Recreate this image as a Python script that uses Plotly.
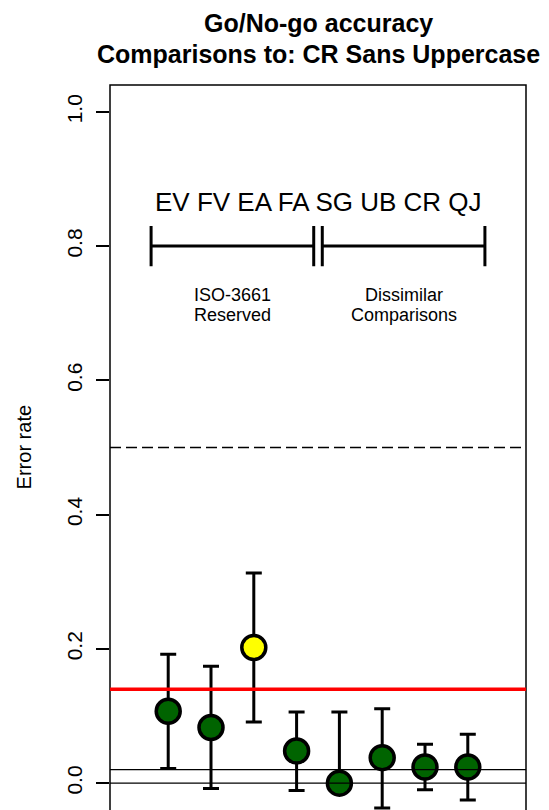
import plotly.graph_objects as go

# ---- data ----
categories = ["EV", "FV", "EA", "FA", "SG", "UB", "CR", "QJ"]
x_pos = [1, 2, 3, 4, 5, 6, 7, 8]
error_rate = [0.107, 0.083, 0.202, 0.048, 0.0, 0.038, 0.024, 0.024]
ci_plus = [0.085, 0.091, 0.111, 0.058, 0.106, 0.073, 0.034, 0.049]
ci_minus = [0.085, 0.091, 0.111, 0.059, 0.0, 0.075, 0.034, 0.049]
point_colors = ["#006400", "#006400", "#FFFF00", "#006400",
                "#006400", "#006400", "#006400", "#006400"]
reference_rate = 0.14
chance_rate = 0.5
baseline_rates = [0.0, 0.02]
group_labels = [["ISO-3661", "Reserved"], ["Dissimilar", "Comparisons"]]
group_spans = [[0.6, 4.4], [4.6, 8.4]]
group_centers = [2.5, 6.5]
bracket_y = 0.8
y_ticks = [0.0, 0.2, 0.4, 0.6, 0.8, 1.0]
y_tick_text = ["0.0", "0.2", "0.4", "0.6", "0.8", "1.0"]

FONT = "Liberation Sans, Arial, Helvetica, sans-serif"

fig = go.Figure()
fig.add_trace(go.Scatter(
    x=x_pos, y=error_rate, mode="markers",
    marker=dict(size=24, color=point_colors, line=dict(color="black", width=3.5)),
    error_y=dict(type="data", array=ci_plus, arrayminus=ci_minus, symmetric=False,
                 color="black", thickness=3, width=8),
    showlegend=False, hoverinfo="skip",
))

shapes = []
# border (bottom edge is off-canvas)
shapes.append(dict(type="rect", xref="paper", yref="paper", x0=0, x1=1, y0=-0.2, y1=1,
                   line=dict(color="black", width=1.5), fillcolor="rgba(0,0,0,0)", layer="above"))
for b in baseline_rates:
    shapes.append(dict(type="line", xref="paper", yref="y", x0=0, x1=1, y0=b, y1=b,
                       line=dict(color="black", width=1.3), layer="above"))
shapes.append(dict(type="line", xref="paper", yref="y", x0=0, x1=1, y0=chance_rate, y1=chance_rate,
                   line=dict(color="black", width=1.3, dash="11px,5px"), layer="above"))
shapes.append(dict(type="line", xref="paper", yref="y", x0=0, x1=1, y0=reference_rate, y1=reference_rate,
                   line=dict(color="#FF0000", width=3.5), layer="above"))
for (a, b) in group_spans:
    shapes.append(dict(type="line", x0=a, x1=b, y0=bracket_y, y1=bracket_y,
                       line=dict(color="black", width=3)))
    for xx in (a, b):
        shapes.append(dict(type="line", x0=xx, x1=xx, y0=bracket_y - 0.03, y1=bracket_y + 0.03,
                           line=dict(color="black", width=3)))

annotations = []
annotations.append(dict(x=(x_pos[0] + x_pos[-1]) / 2, y=0.865, text=" ".join(categories),
                        showarrow=False, xanchor="center", yanchor="middle",
                        font=dict(family=FONT, size=26, color="black")))
for cx, lines in zip(group_centers, group_labels):
    annotations.append(dict(x=cx, y=0.727, text=lines[0], showarrow=False, yanchor="middle",
                            font=dict(family=FONT, size=18, color="black")))
    annotations.append(dict(x=cx, y=0.6975, text=lines[1], showarrow=False, yanchor="middle",
                            font=dict(family=FONT, size=18, color="black")))
annotations.append(dict(xref="paper", yref="paper", x=0.5, y=1.1062, text="<b>Go/No-go accuracy</b>",
                        showarrow=False, yanchor="top", borderpad=0,
                        font=dict(family=FONT, size=25, color="black")))
annotations.append(dict(xref="paper", yref="paper", x=0.5, y=1.0428,
                        text="<b>Comparisons to: CR Sans Uppercase</b>",
                        showarrow=False, yanchor="middle", font=dict(family=FONT, size=25, color="black")))
annotations.append(dict(xref="paper", yref="paper", x=-0.207, y=0.5, text="Error rate", textangle=-90,
                        showarrow=False, xanchor="center", yanchor="middle",
                        font=dict(family=FONT, size=20, color="black")))

# the page body adds an 8px margin, so the figure is 8px smaller on each side
fig.update_layout(
    width=541, height=802,
    margin=dict(l=102, r=23, t=77, b=0),
    paper_bgcolor="white", plot_bgcolor="white",
    shapes=shapes, annotations=annotations,
    xaxis=dict(range=[-0.36, 9.36], visible=False, showgrid=False, zeroline=False),
    yaxis=dict(range=[-0.04, 1.04], tickvals=y_ticks, ticktext=y_tick_text, tickangle=-90,
               ticks="outside", ticklen=13, tickwidth=1.5, tickcolor="black",
               ticklabelstandoff=6,
               showgrid=False, zeroline=False, showline=False,
               tickfont=dict(family=FONT, size=21, color="black")),
)
fig.write_html("out.html")
